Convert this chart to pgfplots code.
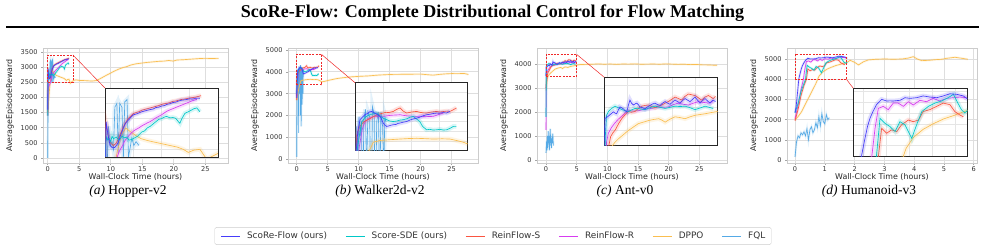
\documentclass[border=0pt]{standalone}
\usepackage{fontspec}
\setmainfont{Liberation Serif}
\newfontfamily\dejavu{DejaVu Sans}
\usepackage{pgfplots}
\pgfplotsset{compat=1.18}
\usepackage{pgfplotstable}

\definecolor{cSF}{RGB}{70,60,250}
\definecolor{cSDE}{RGB}{0,200,200}
\definecolor{cRS}{RGB}{250,85,65}
\definecolor{cRR}{RGB}{215,60,240}
\definecolor{cDP}{RGB}{250,190,80}
\definecolor{cFQ}{RGB}{85,170,230}
\definecolor{boxred}{RGB}{240,40,40}

% ---------------- Hopper-v2 ----------------
\pgfplotstableread[row sep=\\]{x y\\0 1600\\0.04 2960\\0.1 2800\\0.18 2650\\0.26 2620\\0.35 2625\\0.42 2660\\0.47 2690\\0.55 2780\\0.62 2850\\0.7 2920\\0.77 2960\\0.85 2990\\0.92 3020\\1.0 3050\\1.1 3060\\1.2 3075\\1.3 3090\\1.4 3100\\1.5 3110\\1.59 3118\\1.7 3125\\1.8 3145\\1.9 3150\\2.0 3165\\2.1 3170\\2.18 3185\\2.3 3195\\2.4 3210\\2.5 3215\\2.6 3230\\2.7 3240\\2.77 3243\\2.9 3250\\3.0 3260\\3.1 3255\\3.2 3265\\3.3 3268\\3.36 3265\\}\HSF
\pgfplotstableread[row sep=\\]{x y\\0 1400\\0.03 2700\\0.06 2760\\0.1 2720\\0.15 2740\\0.2 2700\\0.25 2770\\0.3 2740\\0.4 2760\\0.5 2720\\0.6 2770\\0.7 2750\\0.77 2760\\0.85 2720\\0.95 2730\\1.05 2750\\1.15 2770\\1.3 2826\\1.4 2840\\1.5 2880\\1.6 2900\\1.7 2930\\1.8 2960\\1.9 2990\\2.0 3000\\2.1 3020\\2.18 3030\\2.3 3010\\2.4 3015\\2.5 3005\\2.6 2960\\2.65 2940\\2.72 3000\\2.83 3070\\2.95 3090\\3.05 3110\\3.15 3130\\3.25 3140\\3.36 3090\\}\HSDE
\pgfplotstableread[row sep=\\]{x y\\0 1500\\0.03 2950\\0.06 2900\\0.12 2760\\0.2 2680\\0.3 2650\\0.4 2680\\0.5 2760\\0.6 2850\\0.7 2930\\0.8 2990\\0.9 3030\\1.0 3065\\1.1 3080\\1.2 3090\\1.3 3110\\1.4 3120\\1.5 3130\\1.6 3140\\1.7 3150\\1.8 3160\\1.9 3170\\2.0 3185\\2.1 3195\\2.2 3200\\2.3 3210\\2.4 3225\\2.5 3230\\2.6 3240\\2.7 3250\\2.8 3255\\2.9 3262\\3.0 3270\\3.1 3275\\3.2 3280\\3.3 3290\\3.4 3300\\}\HRS
\pgfplotstableread[row sep=\\]{x y\\0 1400\\0.05 2300\\0.15 2350\\0.25 2400\\0.35 2450\\0.41 2480\\0.5 2570\\0.62 2650\\0.7 2710\\0.8 2760\\0.9 2800\\1.0 2836\\1.1 2860\\1.2 2880\\1.3 2905\\1.4 2925\\1.5 2945\\1.59 2960\\1.7 2985\\1.8 3010\\1.9 3030\\2.0 3050\\2.1 3075\\2.18 3095\\2.3 3115\\2.4 3130\\2.5 3145\\2.6 3160\\2.77 3185\\2.9 3205\\3.0 3220\\3.1 3235\\3.25 3252\\}\HRR
\pgfplotstableread[row sep=\\]{x y\\0 1400\\0.15 1900\\0.3 2300\\0.45 2600\\0.6 2800\\0.74 2876\\0.9 2830\\1.05 2790\\1.27 2740\\1.5 2715\\1.8 2690\\2.05 2670\\2.3 2650\\2.55 2630\\2.77 2600\\2.95 2560\\3.15 2590\\3.36 2600\\3.6 2470\\3.8 2510\\4.07 2560\\4.5 2580\\5.0 2560\\6.0 2555\\7.0 2540\\7.78 2560\\8.5 2640\\9.2 2720\\9.9 2795\\10.5 2860\\11.2 2930\\12.0 2990\\12.5 3015\\13.2 3070\\14.0 3110\\14.6 3125\\15.5 3150\\16.5 3170\\17.5 3190\\18.5 3200\\19.2 3220\\19.9 3200\\20.5 3235\\21.5 3245\\22.5 3260\\23.5 3275\\24.2 3285\\25.0 3290\\26.0 3285\\27.1 3290\\}\HDP
\pgfplotstableread[row sep=\\]{x y\\0 0\\0.04 1500\\0.08 2400\\0.12 2900\\0.18 2650\\0.25 2700\\0.3 2600\\0.35 3150\\0.42 3200\\0.47 2550\\0.52 3200\\0.6 3150\\0.65 2480\\0.7 3220\\0.78 3250\\0.83 2500\\0.88 2600\\0.95 2750\\1.02 2650\\1.1 2700\\1.2 2650\\}\HFQ

% ---------------- Walker2d-v2 ----------------
\pgfplotstableread[row sep=\\]{x y\\0 2800\\0.03 3300\\0.1 3800\\0.18 4038\\0.26 4090\\0.35 4140\\0.45 4170\\0.52 4200\\0.59 4209\\0.65 4190\\0.71 4175\\0.8 4140\\0.89 4106\\0.95 4040\\1.0 3970\\1.06 3930\\1.12 3900\\1.2 3910\\1.28 3925\\1.36 3935\\1.45 3940\\1.52 3960\\1.6 3970\\1.7 3985\\1.83 4000\\1.95 4030\\2.05 4050\\2.19 4070\\2.3 4090\\2.42 4120\\2.54 4140\\2.65 4150\\2.77 4165\\2.9 4175\\3.0 4170\\3.12 4185\\3.25 4175\\3.37 4209\\}\WSF
\pgfplotstableread[row sep=\\]{x y\\0 3000\\0.06 3300\\0.12 3575\\0.18 3800\\0.24 3990\\0.35 4080\\0.45 4120\\0.53 4140\\0.65 4160\\0.77 4175\\0.88 4120\\1.0 4070\\1.12 4040\\1.24 4010\\1.36 4000\\1.48 4010\\1.6 4030\\1.71 4038\\1.85 4060\\1.95 4090\\2.07 4106\\2.17 4060\\2.3 4000\\2.4 3900\\2.54 3830\\2.65 3840\\2.77 3825\\2.9 3830\\3.02 3840\\3.13 3825\\3.25 3830\\3.37 3860\\3.49 3900\\3.6 3900\\}\WSDE
\pgfplotstableread[row sep=\\]{x y\\0 2700\\0.06 3713\\0.15 3880\\0.3 3990\\0.42 4030\\0.53 4060\\0.65 4100\\0.8 4140\\0.9 4160\\1.0 4175\\1.1 4190\\1.2 4185\\1.36 4209\\1.48 4250\\1.6 4280\\1.7 4220\\1.83 4175\\1.95 4190\\2.05 4200\\2.19 4209\\2.3 4190\\2.42 4180\\2.54 4175\\2.65 4190\\2.77 4200\\2.9 4209\\3.0 4195\\3.12 4205\\3.25 4215\\3.37 4209\\3.48 4240\\3.6 4280\\}\WRS
\pgfplotstableread[row sep=\\]{x y\\0 2900\\0.1 3300\\0.18 3575\\0.26 3850\\0.35 3990\\0.45 4050\\0.55 4080\\0.65 4106\\0.8 4110\\1.0 4106\\1.15 4120\\1.3 4130\\1.45 4135\\1.6 4140\\1.75 4125\\1.9 4115\\2.05 4110\\2.19 4106\\2.35 4110\\2.5 4100\\2.65 4105\\2.77 4106\\2.9 4130\\3.0 4150\\3.13 4175\\}\WRR
\pgfplotstableread[row sep=\\]{x y\\0 2700\\0.2 3050\\0.4 3300\\0.55 3450\\0.65 3575\\0.89 3610\\1.2 3625\\1.6 3640\\1.9 3650\\2.19 3655\\2.5 3648\\2.77 3640\\3.1 3645\\3.37 3640\\3.6 3610\\3.84 3575\\4.0 3540\\4.5 3560\\5.0 3600\\5.65 3640\\6.5 3690\\7.5 3730\\8.9 3770\\10.0 3790\\11.5 3810\\13.2 3850\\14.5 3870\\15.5 3880\\17.0 3885\\18.5 3890\\20.0 3895\\21.0 3870\\22.0 3846\\23.0 3880\\24.0 3905\\25.0 3920\\26.0 3915\\27.0 3925\\27.7 3877\\}\WDP
\pgfplotstableread[row sep=\\]{x y\\0 100\\0.03 2500\\0.06 3900\\0.1 3300\\0.14 4100\\0.19 3700\\0.23 4000\\0.27 1200\\0.31 4000\\0.37 4250\\0.41 3000\\0.46 4200\\0.52 4100\\0.57 2000\\0.62 4300\\0.68 4150\\0.72 1500\\0.77 4000\\0.83 4200\\0.88 2500\\0.92 4200\\0.98 3900\\1.02 3000\\1.06 4100\\1.1 4000\\}\WFQ

% ---------------- Ant-v0 ----------------
\pgfplotstableread[row sep=\\]{x y\\0 3500\\0.03 3860\\0.1 3870\\0.18 3890\\0.3 3920\\0.4 3945\\0.47 3930\\0.54 3920\\0.62 3970\\0.69 4010\\0.76 4000\\0.84 3985\\0.92 3960\\0.99 3945\\1.06 4030\\1.13 4100\\1.2 4060\\1.28 4035\\1.36 4050\\1.43 4060\\1.5 4040\\1.57 4010\\1.68 4000\\1.79 3985\\1.9 4010\\2.02 4030\\2.13 4050\\2.24 4060\\2.35 4040\\2.46 4030\\2.57 4060\\2.68 4080\\2.79 4060\\2.9 4045\\3.01 4075\\3.12 4100\\3.23 4080\\3.34 4060\\3.45 4095\\3.56 4120\\3.67 4100\\3.78 4080\\3.89 4110\\4.0 4140\\4.11 4100\\4.22 4060\\4.33 4095\\4.44 4120\\4.55 4090\\4.66 4060\\4.73 4085\\4.8 4100\\4.9 4080\\}\ASF
\pgfplotstableread[row sep=\\]{x y\\0 1800\\0.04 3600\\0.1 3900\\0.18 3950\\0.32 3990\\0.47 4020\\0.62 4000\\0.78 3975\\0.92 3960\\1.06 3950\\1.2 3970\\1.35 3990\\1.57 3985\\1.79 3975\\2.0 4000\\2.24 4020\\2.46 4005\\2.68 3990\\2.9 4005\\3.12 4020\\3.34 4015\\3.56 4020\\3.78 4000\\4.0 3975\\4.22 3995\\4.44 4020\\4.62 4005\\4.8 3990\\}\ASDE
\pgfplotstableread[row sep=\\]{x y\\0 3000\\0.1 3300\\0.2 3500\\0.28 3620\\0.38 3670\\0.49 3710\\0.63 3790\\0.78 3860\\0.92 3910\\1.06 3950\\1.2 3940\\1.35 3950\\1.5 3990\\1.65 4020\\1.8 4030\\1.94 4035\\2.1 4015\\2.24 4000\\2.38 4020\\2.53 4035\\2.68 4060\\2.82 4080\\2.97 4110\\3.12 4140\\3.27 4120\\3.41 4100\\3.56 4150\\3.71 4180\\3.85 4170\\4.0 4160\\4.15 4130\\4.29 4100\\4.44 4140\\4.59 4160\\4.7 4140\\4.8 4120\\4.9 4150\\}\ARS
\pgfplotstableread[row sep=\\]{x y\\0 1250\\0.05 3200\\0.1 3550\\0.18 3665\\0.32 3740\\0.47 3800\\0.62 3850\\0.78 3890\\0.92 3930\\1.06 3960\\1.28 3955\\1.5 3960\\1.72 3975\\1.94 3985\\2.17 3995\\2.4 4010\\2.6 4005\\2.82 4010\\3.04 4040\\3.26 4060\\3.48 4045\\3.71 4035\\3.93 4060\\4.15 4080\\4.37 4070\\4.59 4060\\4.8 4080\\}\ARR
\pgfplotstableread[row sep=\\]{x y\\0 2900\\0.2 3400\\0.35 3500\\0.47 3545\\0.62 3590\\0.78 3630\\0.92 3665\\1.06 3700\\1.28 3745\\1.5 3790\\1.72 3810\\1.94 3830\\2.17 3845\\2.4 3855\\2.55 3835\\2.68 3810\\2.9 3850\\3.12 3880\\3.34 3870\\3.56 3855\\3.78 3880\\4.0 3900\\4.22 3910\\4.44 3920\\4.7 3935\\4.9 3945\\5.5 3975\\6.5 3985\\7.5 3990\\8.5 4005\\9.5 3990\\10.5 4000\\11.5 3985\\12.5 4000\\13.5 3995\\14.5 4005\\15.5 3990\\16.5 3995\\17.5 4000\\18.5 3990\\19.5 4005\\20.5 3995\\21.5 3985\\22.5 3990\\23.5 3975\\24.5 3980\\25.5 3965\\26.5 3960\\27.3 3950\\27.9 3946\\}\ADP
\pgfplotstableread[row sep=\\]{x y\\0 300\\0.1 800\\0.15 400\\0.2 1000\\0.3 500\\0.35 1200\\0.4 700\\0.5 1000\\0.55 400\\0.6 900\\0.7 1300\\0.75 600\\0.8 1000\\0.9 500\\0.95 900\\1.0 700\\1.1 1100\\1.2 600\\}\AFQ

% ---------------- Humanoid-v3 ----------------
\pgfplotstableread[row sep=\\]{x y\\0 2350\\0.04 2700\\0.08 3300\\0.127 4030\\0.177 4335\\0.215 4550\\0.253 4702\\0.3 4830\\0.355 4956\\0.43 5048\\0.506 5018\\0.557 5020\\0.607 5018\\0.66 5025\\0.708 5030\\0.785 5078\\0.86 5066\\0.96 5078\\1.06 5110\\1.164 5090\\1.265 5078\\1.366 5110\\1.467 5150\\1.568 5140\\1.67 5110\\1.72 5066\\1.75 5050\\}\USF
\pgfplotstableread[row sep=\\]{x y\\0 2350\\0.1 2800\\0.2 3400\\0.3 3800\\0.35 4000\\0.405 4700\\0.48 4610\\0.557 4550\\0.633 4460\\0.708 4640\\0.785 4580\\0.886 4335\\0.96 4580\\1.04 4825\\1.14 4920\\1.24 4980\\1.34 5018\\1.44 5078\\1.52 5140\\1.57 5018\\1.64 4860\\1.69 4800\\1.75 4860\\}\USDE
\pgfplotstableread[row sep=\\]{x y\\0 1950\\0.1 2500\\0.2 3200\\0.3 3700\\0.38 4000\\0.43 4519\\0.506 4428\\0.58 4490\\0.66 4460\\0.73 4580\\0.835 4670\\0.91 4640\\0.99 4670\\1.06 4825\\1.16 4860\\1.265 4920\\1.366 4980\\1.467 4950\\1.54 4825\\1.62 4760\\1.67 4730\\}\URS
\pgfplotstableread[row sep=\\]{x y\\0 2050\\0.1 2700\\0.2 3500\\0.28 4000\\0.33 4519\\0.38 4884\\0.455 4920\\0.53 4860\\0.607 4980\\0.68 4980\\0.76 4920\\0.835 5005\\0.91 4945\\1.01 5030\\1.11 5005\\1.21 5066\\1.31 5020\\1.417 5066\\1.52 5078\\1.62 5090\\1.72 5078\\}\URR
\pgfplotstableread[row sep=\\]{x y\\0 2000\\0.1 2150\\0.22 2400\\0.39 2900\\0.56 3390\\0.7 3800\\0.8 4150\\0.91 4350\\1.06 4500\\1.21 4600\\1.37 4690\\1.52 4750\\1.67 4820\\1.75 4850\\1.85 4950\\2.0 4850\\2.13 4720\\2.3 4880\\2.46 4968\\2.7 5000\\3.02 5017\\3.3 5000\\3.6 5017\\3.8 5060\\3.97 5130\\4.1 5020\\4.25 4933\\4.5 4950\\4.7 4980\\4.92 5000\\5.1 5050\\5.37 5100\\5.6 5050\\5.8 5000\\}\UDP
\pgfplotstableread[row sep=\\]{x y\\0 150\\0.05 900\\0.1 1200\\0.15 1100\\0.2 1350\\0.25 1250\\0.3 1400\\0.35 1200\\0.4 1550\\0.45 1000\\0.5 1500\\0.55 1650\\0.6 1350\\0.65 1500\\0.7 1850\\0.75 1600\\0.8 2150\\0.85 1700\\0.9 2300\\0.95 1900\\1.0 1800\\1.05 2250\\1.1 2000\\1.15 2100\\}\UFQ

\pgfplotsset{
  mainax/.style={
    scale only axis, anchor=south west, height=115pt,
    axis background/.style={fill=white},
    axis line style={draw=black!20, line width=0.8pt},
    grid=major, grid style={draw=black!13, line width=0.7pt},
    tick align=outside, major tick length=2pt,
    tick style={draw=black!35, line width=0.6pt},
    xtick pos=bottom, ytick pos=left,
    /pgf/number format/assume math mode=true,
    /pgf/number format/1000 sep={},
    ticklabel style={font=\dejavu\fontsize{6.6}{7}\selectfont, text=black!80},
    xticklabel style={yshift=1.6pt},
    label style={font=\dejavu\fontsize{7.9}{9}\selectfont, text=black!85},
    xlabel style={at={(axis description cs:0.5,-0.122)}, anchor=center},
    xlabel={Wall-Clock Time (hours)}, ylabel={AverageEpisodeReward},
  },
  insetax/.style={
    scale only axis, anchor=south west,
    axis background/.style={fill=white},
    axis line style={draw=black!85, line width=0.9pt},
    grid=major, grid style={draw=black!10, line width=0.5pt},
    xticklabels={}, yticklabels={}, major tick length=0pt,
    tick style={draw=none},
  },
}

% one series: a soft band-like halo under the mean curve
\newcommand\pl[3]{%
  \addplot[#1, line width=#3, opacity=0.16, forget plot] table {#2};
  \addplot[#1, line width=0.65pt, forget plot] table {#2};
}
% all six methods of one environment (SF, SDE, RS, RR, DP, FQ, halo width)
\newcommand\allplots[7]{%
  \pl{cFQ}{#6}{#7}\pl{cDP}{#5}{#7}\pl{cRR}{#4}{#7}%
  \pl{cRS}{#3}{#7}\pl{cSDE}{#2}{#7}\pl{cSF}{#1}{#7}%
}
\tikzset{zoombox/.style={draw=boxred, dash pattern=on 2pt off 1.3pt, line width=0.8pt},
         zoomline/.style={draw=boxred, line width=0.5pt}}

\begin{document}
\begin{tikzpicture}
\useasboundingbox (0,0) rectangle (985pt,251pt);

\node[font=\fontsize{18}{20}\selectfont\bfseries] at (492.5pt,238pt)
  {ScoRe-Flow: Complete Distributional Control for Flow Matching};
\draw[line width=1.5pt] (6pt,224pt) -- (979pt,224pt);

% Hopper
\begin{axis}[mainax, at={(43pt,88pt)}, width=185pt,
  xmin=-0.75, xmax=28.6, ymin=-165, ymax=3632,
  xtick={0,5,...,25}, ytick={0,500,...,3500}]
\allplots{\HSF}{\HSDE}{\HRS}{\HRR}{\HDP}{\HFQ}{2.2pt}
\draw[zoombox] (axis cs:0,2500) rectangle (axis cs:4,3400);
\coordinate (hc) at (axis cs:4,3400);
\end{axis}
\begin{axis}[insetax, at={(105pt,94pt)}, width=113pt, height=69pt,
  xmin=0, xmax=4, ymin=2500, ymax=3400,
  xtick={1,2,3}, ytick={2600,2800,...,3200}]
\allplots{\HSF}{\HSDE}{\HRS}{\HRR}{\HDP}{\HFQ}{4.5pt}
\end{axis}
\draw[zoomline] (hc) -- (105pt,163pt);

% Walker2d
\begin{axis}[mainax, at={(288pt,88pt)}, width=190pt,
  xmin=-1.4, xmax=29.25, ymin=-183, ymax=5092,
  xtick={0,5,...,25}, ytick={0,1000,...,5000}]
\allplots{\WSF}{\WSDE}{\WRS}{\WRR}{\WDP}{\WFQ}{2.2pt}
\draw[zoombox] (axis cs:0,3400) rectangle (axis cs:4,4800);
\coordinate (wc) at (axis cs:4,4800);
\end{axis}
\begin{axis}[insetax, at={(355pt,100.3pt)}, width=112.7pt, height=68pt,
  xmin=0, xmax=4, ymin=3400, ymax=4800,
  xtick={1,2,3}, ytick={3600,3800,...,4600}]
\allplots{\WSF}{\WSDE}{\WRS}{\WRR}{\WDP}{\WFQ}{4.5pt}
\end{axis}
\draw[zoomline] (wc) -- (355pt,168.3pt);

% Ant
\begin{axis}[mainax, at={(537pt,88pt)}, width=190pt,
  xmin=-1.47, xmax=29.5, ymin=-125, ymax=4667,
  xtick={0,5,...,25}, ytick={0,1000,...,4000}]
\allplots{\ASF}{\ASDE}{\ARS}{\ARR}{\ADP}{\AFQ}{2.2pt}
\draw[zoombox] (axis cs:0,3500) rectangle (axis cs:5,4400);
\coordinate (ac) at (axis cs:5,4400);
\end{axis}
\begin{axis}[insetax, at={(604.3pt,105.3pt)}, width=113.4pt, height=68.4pt,
  xmin=0, xmax=5, ymin=3500, ymax=4400,
  xtick={1,2,3,4}, ytick={3700,4000,4300}]
\allplots{\ASF}{\ASDE}{\ARS}{\ARR}{\ADP}{\AFQ}{4.5pt}
\end{axis}
\draw[zoomline] (ac) -- (604.3pt,173.7pt);

% Humanoid
\begin{axis}[mainax, at={(787pt,88pt)}, width=190pt,
  xmin=-0.27, xmax=6.11, ymin=-149, ymax=5561,
  xtick={0,1,...,6}, ytick={0,1000,...,5000}]
\allplots{\USF}{\USDE}{\URS}{\URR}{\UDP}{\UFQ}{2.2pt}
\draw[zoombox] (axis cs:0,4000) rectangle (axis cs:1.73,5250);
\coordinate (uc) at (axis cs:1.73,4000);
\end{axis}
\begin{axis}[insetax, at={(853.3pt,94.3pt)}, width=114pt, height=68.4pt,
  xmin=0, xmax=1.73, ymin=4000, ymax=5250,
  xtick={0.15,0.5,0.85,1.2,1.55}, ytick={4200,4400,...,5200}]
\allplots{\USF}{\USDE}{\URS}{\URR}{\UDP}{\UFQ}{4.5pt}
\end{axis}
\draw[zoomline] (uc) -- (853.3pt,162.7pt);

% sub-captions
\begin{scope}[every node/.style={font=\fontsize{13.5}{15}\selectfont}]
\node at (128pt,59.5pt) {\textit{(a)} Hopper-v2};
\node at (380pt,59.5pt) {\textit{(b)} Walker2d-v2};
\node at (625pt,59.5pt) {\textit{(c)} Ant-v0};
\node at (869pt,59.5pt) {\textit{(d)} Humanoid-v3};
\end{scope}

% shared legend
\begin{axis}[hide axis, scale only axis, width=1pt, height=1pt,
  at={(493pt,15pt)}, anchor=center, xmin=0, xmax=1, ymin=0, ymax=1,
  legend columns=6,
  legend image code/.code={\draw[#1] (0pt,0pt) -- (19pt,0pt);},
  legend style={at={(0.5,0.5)}, anchor=center, draw=black!20,
    rounded corners=1.5pt, fill=white, inner xsep=6pt, inner ysep=3pt,
    font=\dejavu\fontsize{8.9}{10}\selectfont, text=black!80,
    nodes={inner xsep=0pt, inner ysep=1.5pt},
    /tikz/every odd column/.append style={column sep=6.5pt},
    /tikz/every even column/.append style={column sep=18.4pt}}]
\addlegendimage{cSF, line width=0.8pt}\addlegendentry{ScoRe-Flow (ours)}
\addlegendimage{cSDE, line width=0.8pt}\addlegendentry{Score-SDE (ours)}
\addlegendimage{cRS, line width=0.8pt}\addlegendentry{ReinFlow-S}
\addlegendimage{cRR, line width=0.8pt}\addlegendentry{ReinFlow-R}
\addlegendimage{cDP, line width=0.8pt}\addlegendentry{DPPO}
\addlegendimage{cFQ, line width=0.8pt}\addlegendentry{FQL}
\end{axis}
\end{tikzpicture}
\end{document}
